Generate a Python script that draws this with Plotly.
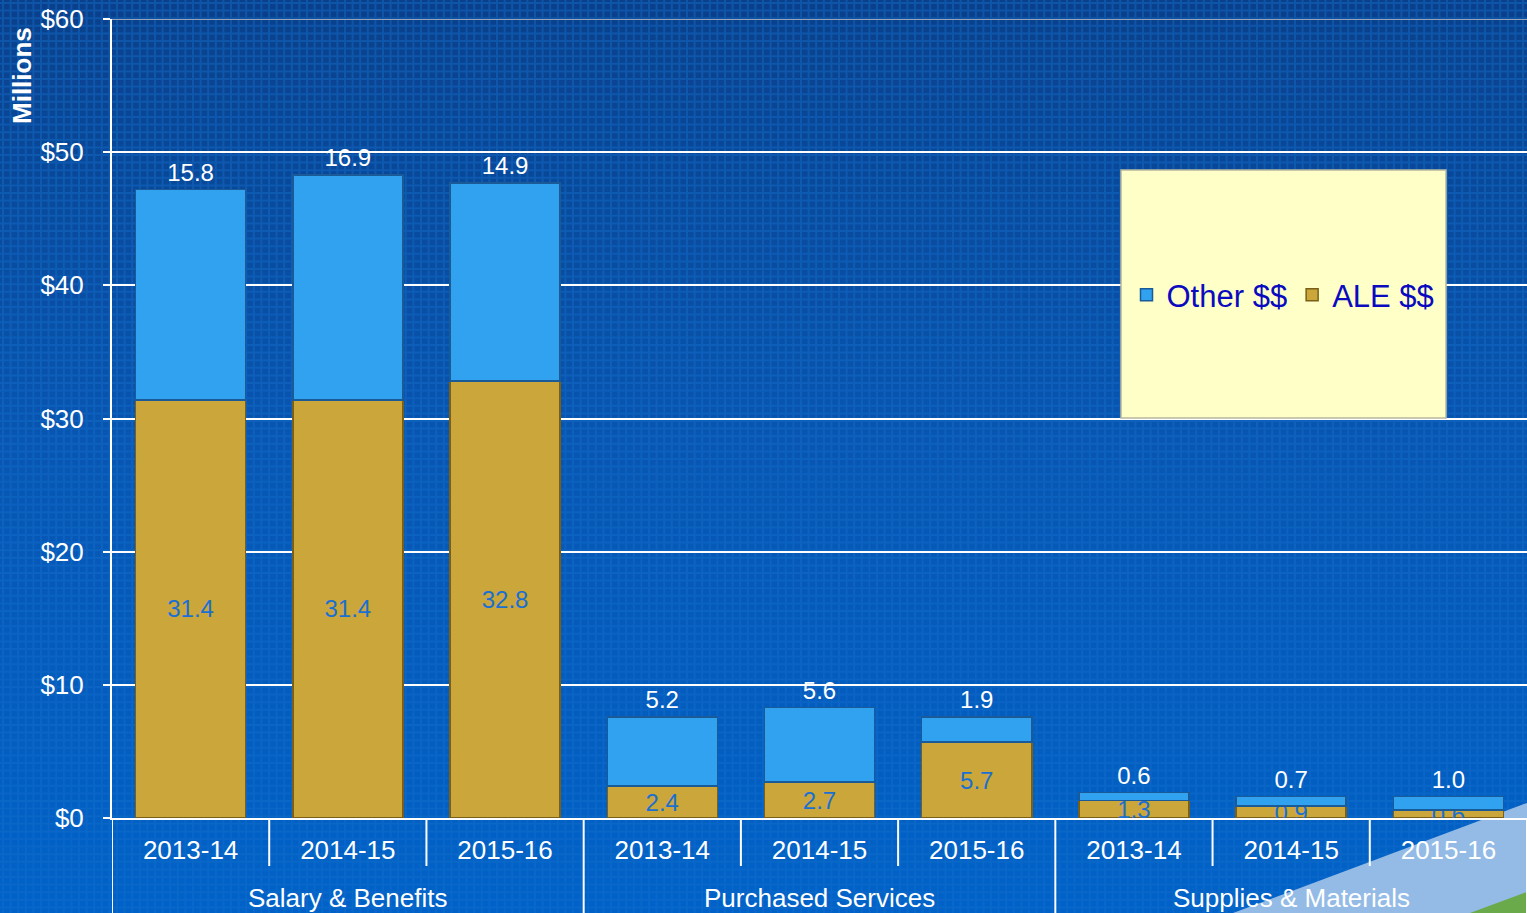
import plotly.graph_objects as go

# ---------------- data ----------------
group_names = ["Salary & Benefits", "Purchased Services", "Supplies & Materials"]
periods = ["2013-14", "2014-15", "2015-16"]
ale_values = [31.4, 31.4, 32.8, 2.4, 2.7, 5.7, 1.3, 0.9, 0.6]
other_values = [15.8, 16.9, 14.9, 5.2, 5.6, 1.9, 0.6, 0.7, 1.0]
y_ticks = [0, 10, 20, 30, 40, 50, 60]
y_ticktext = ["$0", "$10", "$20", "$30", "$40", "$50", "$60"]

# category positions derived from the lists
n_per = len(periods)
n = len(group_names) * n_per
xpos = list(range(n))
x_ticktext = periods * len(group_names)
group_centers = [g * n_per + (n_per - 1) / 2 for g in range(len(group_names))]
inner_bounds = [i - 0.5 for i in range(1, n) if i % n_per]
group_bounds = [g * n_per - 0.5 for g in range(len(group_names) + 1)]

# ---------------- geometry helpers (pixel -> paper) ----------------
W, H = 1527, 913
ML, MR, MT, MB = 112, 0, 19, 95
PW, PH = W - ML - MR, H - MT - MB


def px(x):
    return (x - ML) / PW


def py(y):
    return (H - MB - y) / PH


FONT = "Liberation Sans, Arial, sans-serif"

fig = go.Figure()
fig.add_trace(go.Bar(
    x=xpos, y=ale_values, name="ALE $$", width=0.7,
    marker=dict(color="#cba63a", line=dict(color="#7a5f18", width=1.5)),
    text=[f"{v:.1f}" for v in ale_values], textposition="inside",
    insidetextanchor="middle", textangle=0,
    textfont=dict(family=FONT, size=24, color="#1a6fd2"),
))
fig.add_trace(go.Bar(
    x=xpos, y=other_values, name="Other $$", width=0.7,
    marker=dict(color="#30a2f0", line=dict(color="#1a5a96", width=1.5)),
    text=[f"{v:.1f}" for v in other_values], textposition="outside",
    textangle=0, cliponaxis=False,
    textfont=dict(family=FONT, size=26, color="white"),
))

shapes = []
# background vertical gradient
stops = [(0, (10, 64, 138)), (450, (8, 86, 178)), (913, (0, 98, 200))]


def col_at(y):
    for (y0, c0), (y1, c1) in zip(stops[:-1], stops[1:]):
        if y0 <= y <= y1:
            t = (y - y0) / (y1 - y0)
            return tuple(round(a + (b - a) * t) for a, b in zip(c0, c1))
    return stops[-1][1]


band = 16
y = 0
while y < H:
    c = col_at(y + band / 2)
    shapes.append(dict(type="rect", xref="paper", yref="paper", layer="below",
                       x0=px(-5), x1=px(W + 5), y0=py(y + band + 1), y1=py(y),
                       fillcolor=f"rgb{c}", line=dict(width=0)))
    y += band

# grid texture as a single path
step = 7.6
segs = []
x = 3.0
while x < W:
    segs.append(f"M{px(x):.5f},{py(-2):.5f} L{px(x):.5f},{py(H + 2):.5f}")
    x += step
yy = 3.0
while yy < H:
    segs.append(f"M{px(-2):.5f},{py(yy):.5f} L{px(W + 2):.5f},{py(yy):.5f}")
    yy += step
shapes.append(dict(type="path", xref="paper", yref="paper", layer="below",
                   path=" ".join(segs), line=dict(color="rgba(20,110,205,0.45)", width=2)))

# corner decoration
shapes.append(dict(type="path", xref="paper", yref="paper", layer="below",
                   path=f"M{px(1527)},{py(803)} L{px(1233)},{py(913)} L{px(1527)},{py(913)} Z",
                   fillcolor="#93bbe6", line=dict(width=0)))
shapes.append(dict(type="path", xref="paper", yref="paper", layer="below",
                   path=f"M{px(1527)},{py(892)} L{px(1470)},{py(913)} L{px(1527)},{py(913)} Z",
                   fillcolor="#6aaa4a", line=dict(width=0)))

# category dividers
for b in inner_bounds:
    shapes.append(dict(type="line", xref="x", yref="paper", layer="above",
                       x0=b, x1=b, y0=0, y1=py(866), line=dict(color="white", width=2)))
for b in group_bounds:
    shapes.append(dict(type="line", xref="x", yref="paper", layer="above",
                       x0=b, x1=b, y0=0, y1=py(H + 5), line=dict(color="white", width=2)))

# top border line (gray)
shapes.append(dict(type="line", xref="paper", yref="y", layer="above",
                   x0=0, x1=1, y0=60, y1=60, line=dict(color="#9aa3b3", width=2)))

# legend box
shapes.append(dict(type="rect", xref="paper", yref="paper", layer="above",
                   x0=px(1121), x1=px(1446), y0=py(418), y1=py(170),
                   fillcolor="#ffffc8", line=dict(color="#b8b8a0", width=1.5)))

annotations = [dict(text="<b>Millions</b>", xref="paper", yref="paper",
                    x=px(22), y=py(76), xanchor="center", yanchor="middle",
                    textangle=-90, showarrow=False,
                    font=dict(family=FONT, size=26, color="white"))]
for gx, name in zip(group_centers, group_names):
    annotations.append(dict(text=name, xref="x", yref="paper", x=gx, y=py(898),
                            xanchor="center", yanchor="middle", showarrow=False,
                            font=dict(family=FONT, size=26, color="white")))

fig.update_layout(
    width=W, height=H,
    margin=dict(l=ML, r=MR, t=MT, b=MB, autoexpand=False),
    paper_bgcolor="rgb(8,80,170)",
    plot_bgcolor="rgba(0,0,0,0)",
    barmode="stack",
    font=dict(family=FONT, color="white", size=26),
    uniformtext=dict(mode="show", minsize=24),
    shapes=shapes,
    annotations=annotations,
    showlegend=True,
    legend=dict(orientation="h", x=px(1283), y=py(295), xanchor="center", yanchor="middle",
                bgcolor="rgba(0,0,0,0)", traceorder="reversed",
                font=dict(family=FONT, size=31, color="#0a0ac0"),
                itemwidth=30),
)

fig.update_yaxes(range=[0, 60], tickvals=y_ticks, ticktext=y_ticktext,
                 showgrid=True, gridcolor="white", gridwidth=2,
                 showline=True, linecolor="white", linewidth=2,
                 ticks="outside", ticklen=7, tickcolor="white", tickwidth=2,
                 ticklabelstandoff=14, zeroline=False, automargin=False,
                 tickfont=dict(family=FONT, size=26, color="white"))
fig.update_xaxes(range=[-0.5, n - 0.5], tickvals=xpos, ticktext=x_ticktext,
                 showline=True, linecolor="white", linewidth=2,
                 ticks="", showgrid=False, zeroline=False,
                 ticklabelstandoff=8, automargin=False,
                 tickfont=dict(family=FONT, size=26, color="white"))

fig.write_html("out.html", config={"displayModeBar": False},
               post_script="document.body.style.margin='0';document.body.style.overflow='hidden';")
